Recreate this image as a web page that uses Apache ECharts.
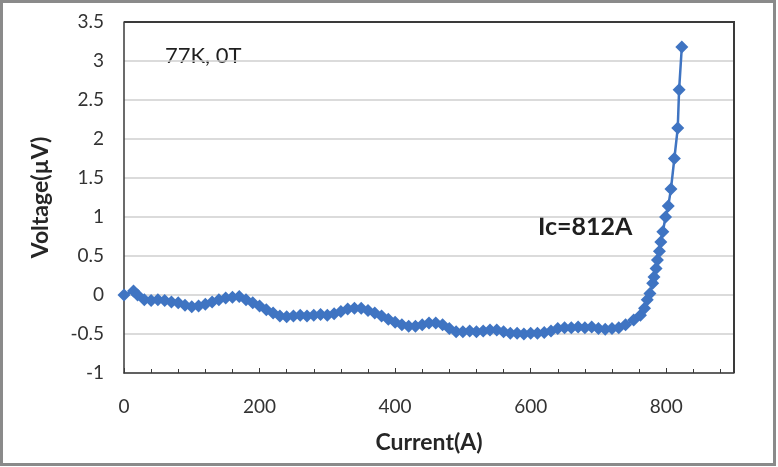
<!DOCTYPE html>
<html>
<head>
<meta charset="utf-8">
<script src="https://cdn.jsdelivr.net/npm/echarts@6/dist/echarts.min.js"></script>
<style>
  html, body { margin: 0; padding: 0; background: #fff; }
  #chart { width: 778px; height: 467px; }
</style>
</head>
<body>
<div id="chart"></div>
<script>
var current = [
  0, 14, 20, 30, 40, 50, 60, 70, 80, 90,
  100, 110, 120, 130, 140, 150, 160, 170, 180, 190,
  200, 210, 220, 230, 240, 250, 260, 270, 280, 290,
  300, 310, 320, 330, 340, 350, 360, 370, 380, 390,
  400, 410, 420, 430, 440, 450, 460, 470, 480, 490,
  500, 510, 520, 530, 540, 550, 560, 570, 580, 590,
  600, 610, 620, 630, 640, 650, 660, 670, 680, 690,
  700, 710, 720, 730, 740, 752, 762, 768, 772, 776,
  780, 782, 785, 787, 790, 792, 795, 799, 803, 807,
  812, 817, 819, 823
];
var voltage = [
  0.00, 0.05, 0.00, -0.06, -0.07, -0.06, -0.07, -0.09, -0.10, -0.13,
  -0.15, -0.14, -0.12, -0.09, -0.06, -0.04, -0.03, -0.02, -0.06, -0.10,
  -0.14, -0.19, -0.23, -0.27, -0.28, -0.27, -0.26, -0.27, -0.26, -0.25,
  -0.26, -0.24, -0.21, -0.18, -0.17, -0.17, -0.20, -0.23, -0.27, -0.31,
  -0.35, -0.38, -0.40, -0.40, -0.38, -0.36, -0.36, -0.38, -0.43, -0.47,
  -0.47, -0.46, -0.47, -0.46, -0.45, -0.45, -0.47, -0.49, -0.49, -0.50,
  -0.49, -0.49, -0.48, -0.46, -0.43, -0.42, -0.42, -0.41, -0.42, -0.41,
  -0.43, -0.44, -0.43, -0.42, -0.38, -0.32, -0.26, -0.17, -0.06, 0.02,
  0.15, 0.23, 0.34, 0.45, 0.56, 0.68, 0.81, 1.00, 1.14, 1.36,
  1.75, 2.14, 2.63, 3.18
];
var xTicks = [0, 900, 200];
var yTicks = [-1, 3.5, 0.5];

var points = [];
for (var i = 0; i < current.length; i++) {
  points.push([current[i], voltage[i]]);
}

var font = 'Lato, "Liberation Sans", sans-serif';
var plot = { left: 124, right: 734, top: 22, bottom: 373 };

var chart = echarts.init(document.getElementById('chart'));
chart.setOption({
  animation: false,
  backgroundColor: '#fff',
  grid: { left: plot.left, right: 778 - plot.right, top: plot.top, bottom: 467 - plot.bottom },
  xAxis: {
    type: 'value',
    min: xTicks[0], max: xTicks[1], interval: xTicks[2],
    name: 'Current(A)',
    nameLocation: 'middle',
    nameGap: 58,
    nameTextStyle: { fontFamily: font, fontSize: 23, fontWeight: 'bold', color: '#262626' },
    axisLine: { show: true, onZero: false, lineStyle: { color: '#3a3a3a', width: 1.5 } },
    axisTick: { show: true, inside: true, length: 5, lineStyle: { color: '#3a3a3a' } },
    minorTick: { show: true, splitNumber: 5, length: 4, lineStyle: { color: '#3a3a3a' } },
    axisLabel: { fontFamily: font, fontSize: 19, color: '#333', margin: 24, showMaxLabel: false },
    splitLine: { show: false }
  },
  yAxis: {
    type: 'value',
    min: yTicks[0], max: yTicks[1], interval: yTicks[2],
    name: 'Voltage(\u00b5V)',
    nameLocation: 'middle',
    nameGap: 72,
    nameTextStyle: { fontFamily: font, fontSize: 23, fontWeight: 'bold', color: '#262626' },
    axisLine: { show: true, onZero: false, lineStyle: { color: '#3a3a3a', width: 1.5 } },
    axisTick: { show: false },
    axisLabel: { fontFamily: font, fontSize: 19, color: '#333', margin: 20 },
    splitLine: { show: true, lineStyle: { color: '#cfcfcf', width: 1.5 } }
  },
  series: [{
    type: 'line',
    data: points,
    symbol: 'diamond',
    symbolSize: 13,
    color: '#3f74c2',
    lineStyle: { width: 2.5, color: '#3f74c2' },
    itemStyle: { color: '#3f74c2' },
    z: 3
  }],
  graphic: [
    {
      type: 'rect',
      shape: { x: 1.5, y: 1.5, width: 773, height: 463 },
      style: { fill: 'none', stroke: '#8a8a8a', lineWidth: 3 },
      silent: true
    },
    {
      // top and right edges of the plot frame
      type: 'polyline',
      shape: { points: [[plot.left, plot.top], [plot.right, plot.top], [plot.right, plot.bottom]] },
      style: { stroke: '#3a3a3a', lineWidth: 2, fill: null },
      z: 100
    },
    {
      type: 'text',
      left: 165, top: 45,
      style: { text: '77K, 0T', font: '22px ' + font, fill: '#1f1f1f' }
    },
    {
      type: 'text',
      left: 538, top: 214,
      style: { text: 'Ic=812A', font: 'bold 25px ' + font, fill: '#1f1f1f' }
    }
  ]
});
</script>
</body>
</html>
